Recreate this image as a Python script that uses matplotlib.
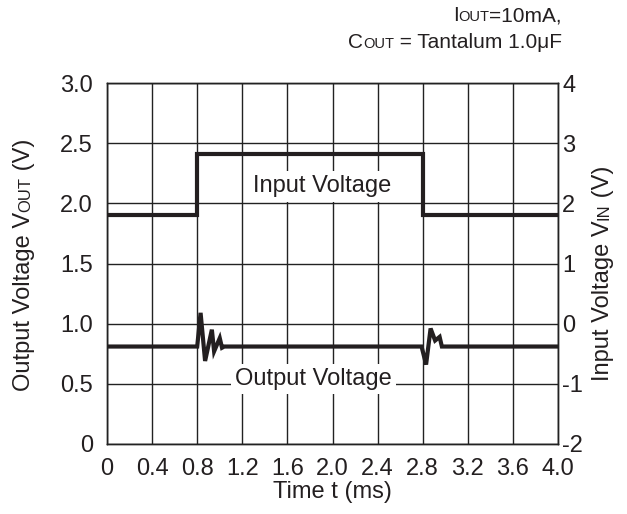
import matplotlib
matplotlib.use('Agg')
import matplotlib.pyplot as plt
from matplotlib.transforms import IdentityTransform

plt.rcParams['font.family'] = ['Liberation Sans', 'DejaVu Sans']

# input step (right axis, V_IN)
t_in = [0.0, 0.8, 0.8, 2.8, 2.8, 4.0]
v_in = [1.80, 1.80, 2.82, 2.82, 1.80, 1.80]

# output transient (left axis, V_OUT)
t_out = [0.0, 0.80, 0.83, 0.87, 0.93, 0.95, 1.00, 1.02, 1.04,
         2.79, 2.83, 2.87, 2.91, 2.95, 2.97, 3.00, 4.0]
v_out = [0.81, 0.81, 1.09, 0.69, 0.95, 0.77, 0.88, 0.80, 0.81,
         0.81, 0.66, 0.96, 0.86, 0.89, 0.81, 0.81, 0.81]

x_ticks = [0, 0.4, 0.8, 1.2, 1.6, 2.0, 2.4, 2.8, 3.2, 3.6, 4.0]
x_labels = ['0', '0.4', '0.8', '1.2', '1.6', '2.0', '2.4', '2.8', '3.2', '3.6', '4.0']
yl_ticks = [0, 0.5, 1.0, 1.5, 2.0, 2.5, 3.0]
yl_labels = ['0', '0.5', '1.0', '1.5', '2.0', '2.5', '3.0']
yr_ticks = [-2, -1, 0, 1, 2, 3, 4]
yr_labels = ['-2', '-1', '0', '1', '2', '3', '4']

W, H = 627, 514
fig = plt.figure(figsize=(W / 100, H / 100), dpi=100)
L, R, T, B = 107, 558, 83, 444
ax = fig.add_axes([L / W, (H - B) / H, (R - L) / W, (B - T) / H])
ax2 = ax.twinx()

FS = 17
INK = '#231f20'
GRID = '#222222'

ax.set_xlim(0, 4.0)
ax.set_ylim(0, 3.0)
ax2.set_ylim(-2, 4)
ax.set_xticks(x_ticks, x_labels)
ax.set_yticks(yl_ticks, yl_labels)
ax2.set_yticks(yr_ticks, yr_labels)
ax.tick_params(axis='x', length=0, pad=10, labelsize=FS, labelcolor=INK)
ax.tick_params(axis='y', length=0, pad=10, labelsize=FS, labelcolor=INK)
ax2.tick_params(axis='y', length=0, pad=3, labelsize=FS, labelcolor=INK)
ax.grid(True, color=GRID, lw=1.0)
ax.set_axisbelow(True)
for a in (ax, ax2):
    for s in a.spines.values():
        s.set_color(GRID)
        s.set_linewidth(1.0)

ax.plot(t_out, v_out, color=INK, lw=3.0, solid_joinstyle='miter', zorder=3)
ax2.plot(t_in, v_in, color=INK, lw=3.0, solid_joinstyle='miter', zorder=3)

box = dict(facecolor='white', edgecolor='none', pad=3)
ax.text(1.91, 2.14, 'Input Voltage', fontsize=FS, color=INK, ha='center', va='center', bbox=box, zorder=2)
ax.text(1.83, 0.54, 'Output Voltage', fontsize=FS, color=INK, ha='center', va='center', bbox=box, zorder=2)

ax.set_xlabel('Time t (ms)', fontsize=FS, color=INK, labelpad=1)


def mixed_text(x, y, parts, ha='left', rotation=0):
    # parts: list of (string, size); x, y in image pixels (origin top-left)
    r = fig.canvas.get_renderer()
    widths = []
    for s, size in parts:
        t1 = fig.text(0, 0, '|' + s + '|', fontsize=size)
        t2 = fig.text(0, 0, '||', fontsize=size)
        widths.append(t1.get_window_extent(r).width - t2.get_window_extent(r).width)
        t1.remove()
        t2.remove()
    total = sum(widths)
    if rotation == 0:
        pos = x - total if ha == 'right' else (x - total / 2 if ha == 'center' else x)
    else:
        pos = (H - y) - total / 2
    for (s, size), w in zip(parts, widths):
        if rotation == 0:
            xy = (pos, H - y)
        else:
            xy = (x, pos)
        fig.text(xy[0], xy[1], s, fontsize=size, color=INK, transform=IdentityTransform(),
                 ha='left', va='baseline', rotation=rotation, rotation_mode='anchor')
        pos += w


fig.canvas.draw()
mixed_text(562, 21, [('I', 15), ('OUT', 10.5), ('=10mA,', 15)], ha='right')
mixed_text(562, 48, [('C', 15), ('OUT', 10.5), (' = Tantalum 1.0\u03bcF', 15)], ha='right')
mixed_text(30, 265, [('Output Voltage V', FS), ('OUT', 12), (' (V)', FS)], rotation=90)
mixed_text(609, 273, [('Input Voltage V', FS), ('IN', 12), (' (V)', FS)], rotation=90)

fig.savefig('out.png', dpi=100)
